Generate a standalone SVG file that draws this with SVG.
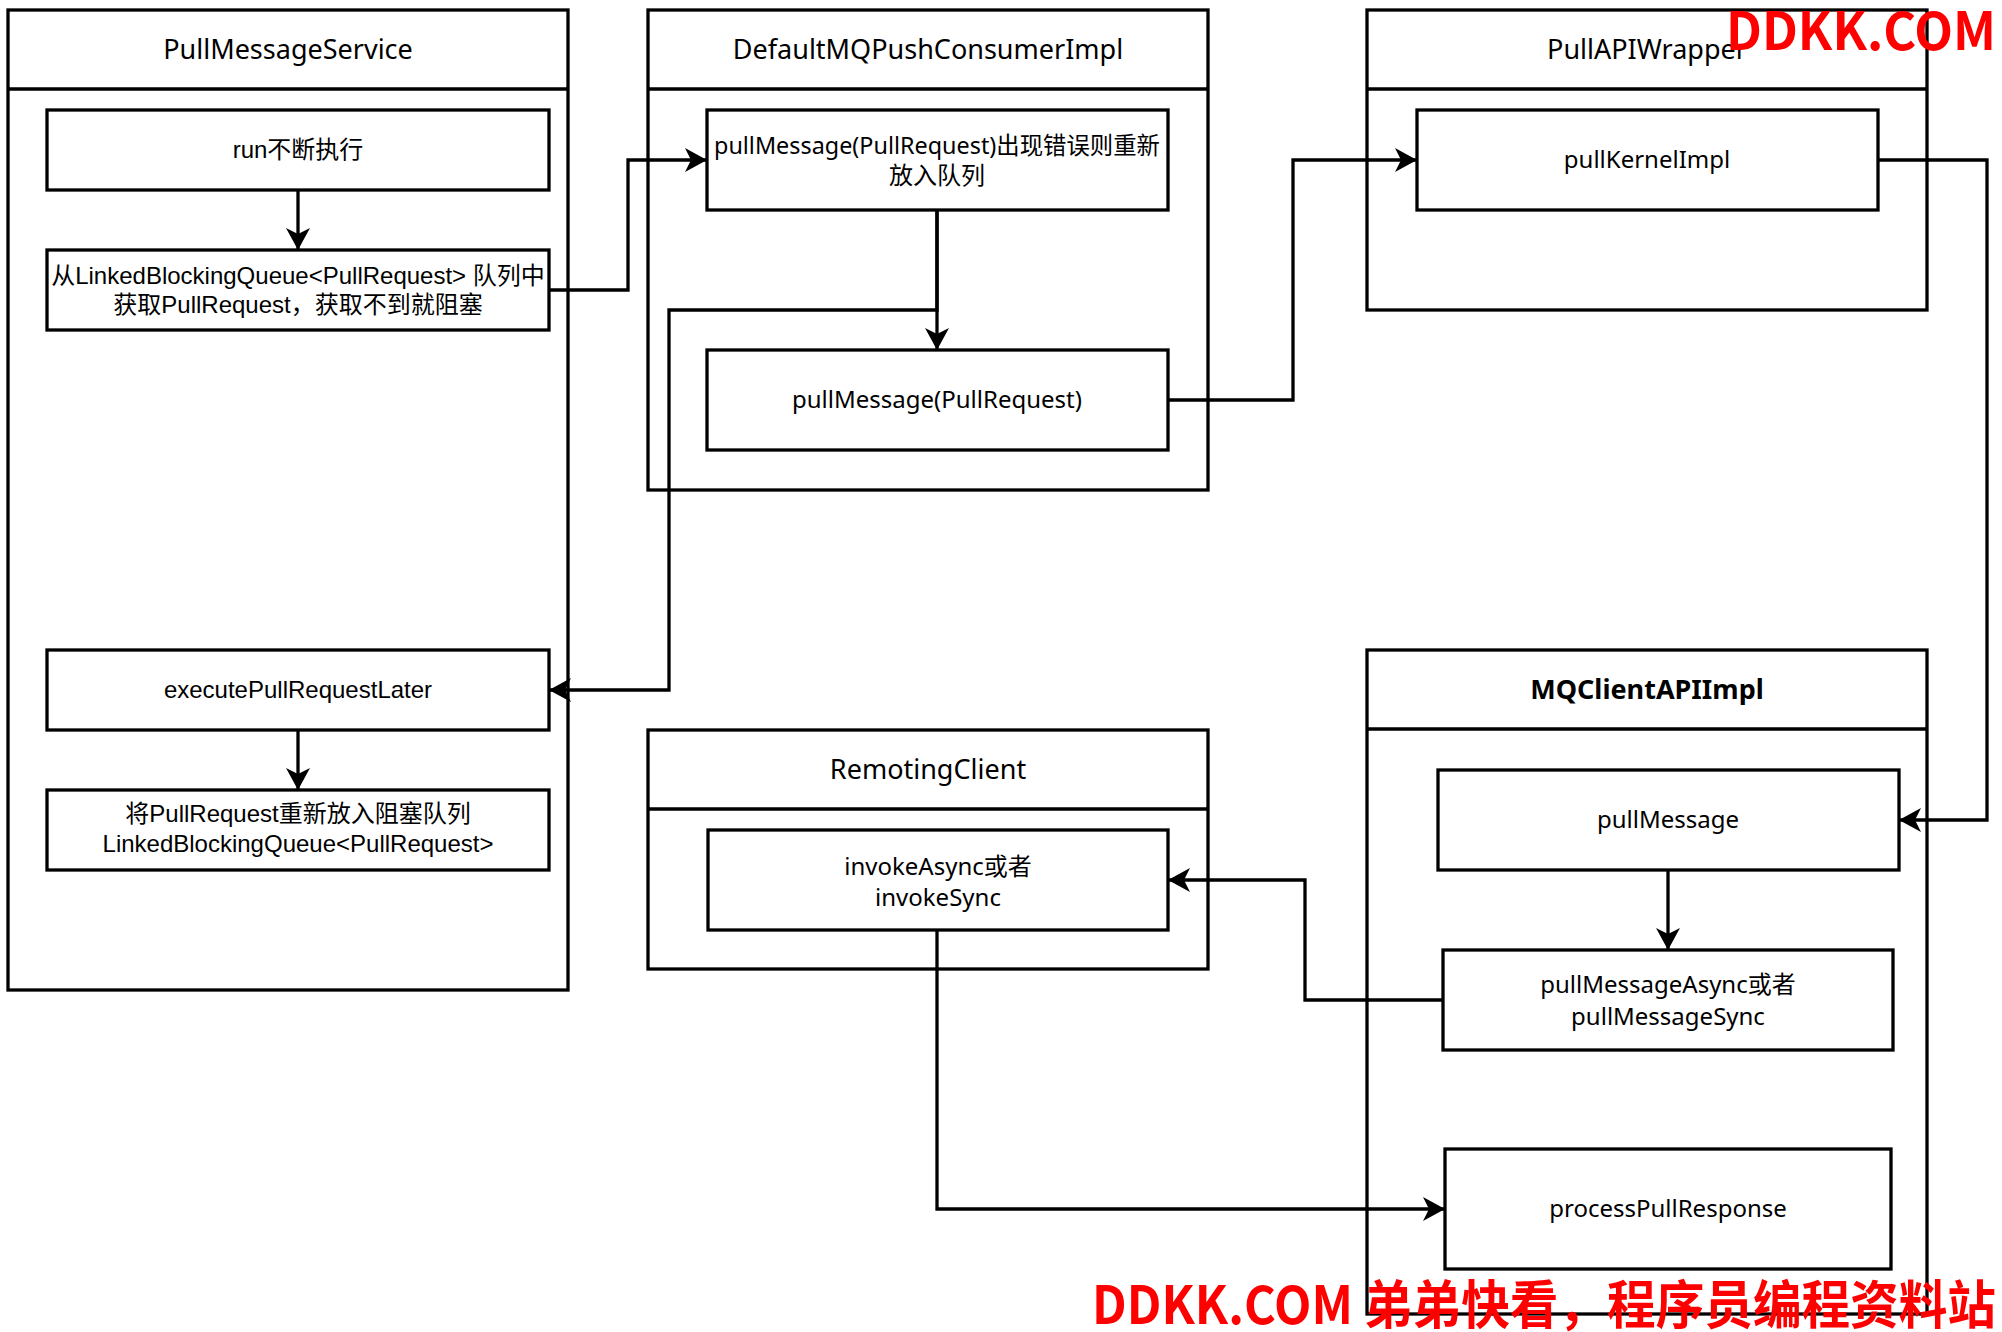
<svg xmlns="http://www.w3.org/2000/svg" width="2002" height="1332" viewBox="0 0 2002 1332">
<style>
.box{fill:#fff;stroke:#000;stroke-width:3.3}
.hdr{fill:none;stroke:#000;stroke-width:3.3}
.c{font-family:"Noto Sans","Noto Sans CJK SC",sans-serif;font-size:24px;text-anchor:middle;fill:#000}
.h{font-family:"Liberation Sans",Arial,"Noto Sans CJK SC",sans-serif;font-size:24px;text-anchor:middle;fill:#000}
.title{font-size:27px}
.conn{fill:none;stroke:#000;stroke-width:3.3}
.wm{font-family:"Noto Sans CJK SC",sans-serif;font-weight:bold;fill:#ff0000;font-size:52px}
</style>
<defs>
<marker id="arr" markerUnits="userSpaceOnUse" markerWidth="24" markerHeight="26" refX="21" refY="13" orient="auto">
<path d="M0,1 L22,13 L0,25 L6,13 Z" fill="#000"/>
</marker>
</defs>
<rect width="2002" height="1332" fill="#fff"/>

<g id="PullMessageService">
<rect class="box" x="8" y="10" width="560" height="980"/>
<line class="hdr" x1="8" y1="89" x2="568" y2="89"/>
<text class="c title" x="288" y="59">PullMessageService</text>
</g>
<g id="DefaultMQPushConsumerImpl">
<rect class="box" x="648" y="10" width="560" height="480"/>
<line class="hdr" x1="648" y1="89" x2="1208" y2="89"/>
<text class="c title" x="928" y="59">DefaultMQPushConsumerImpl</text>
</g>
<g id="PullAPIWrapper">
<rect class="box" x="1367" y="10" width="560" height="300"/>
<line class="hdr" x1="1367" y1="89" x2="1927" y2="89"/>
<text class="c title" x="1647" y="59">PullAPIWrapper</text>
</g>
<g id="RemotingClient">
<rect class="box" x="648" y="730" width="560" height="239"/>
<line class="hdr" x1="648" y1="809" x2="1208" y2="809"/>
<text class="c title" x="928" y="779">RemotingClient</text>
</g>
<g id="MQClientAPIImpl">
<rect class="box" x="1367" y="650" width="560" height="664"/>
<line class="hdr" x1="1367" y1="729" x2="1927" y2="729"/>
<text class="c title" x="1647" y="699" font-weight="bold">MQClientAPIImpl</text>
</g>

<g id="run">
<rect class="box" x="47" y="110" width="502" height="80"/>
<text class="h" x="298" y="158">run不断执行</text>
</g>
<g id="takeQueue">
<rect class="box" x="47" y="250" width="502" height="80"/>
<text class="h" x="298" y="284">从LinkedBlockingQueue&lt;PullRequest&gt; 队列中</text>
<text class="h" x="298" y="313">获取PullRequest，获取不到就阻塞</text>
</g>
<g id="executePullRequestLater">
<rect class="box" x="47" y="650" width="502" height="80"/>
<text class="h" x="298" y="698">executePullRequestLater</text>
</g>
<g id="requeue">
<rect class="box" x="47" y="790" width="502" height="80"/>
<text class="h" x="298" y="822">将PullRequest重新放入阻塞队列</text>
<text class="h" x="298" y="852">LinkedBlockingQueue&lt;PullRequest&gt;</text>
</g>
<g id="pullMessageRetry">
<rect class="box" x="707" y="110" width="461" height="100"/>
<text class="c" x="937" y="154" textLength="446" lengthAdjust="spacingAndGlyphs">pullMessage(PullRequest)出现错误则重新</text>
<text class="c" x="937" y="184">放入队列</text>
</g>
<g id="pullMessagePR">
<rect class="box" x="707" y="350" width="461" height="100"/>
<text class="c" x="937" y="408">pullMessage(PullRequest)</text>
</g>
<g id="pullKernelImpl">
<rect class="box" x="1417" y="110" width="461" height="100"/>
<text class="c" x="1647" y="168">pullKernelImpl</text>
</g>
<g id="invoke">
<rect class="box" x="708" y="830" width="460" height="100"/>
<text class="c" x="938" y="875">invokeAsync或者</text>
<text class="c" x="938" y="906">invokeSync</text>
</g>
<g id="pullMessage">
<rect class="box" x="1438" y="770" width="461" height="100"/>
<text class="c" x="1668" y="828">pullMessage</text>
</g>
<g id="pullMessageAsync">
<rect class="box" x="1443" y="950" width="450" height="100"/>
<text class="c" x="1668" y="993">pullMessageAsync或者</text>
<text class="c" x="1668" y="1025">pullMessageSync</text>
</g>
<g id="processPullResponse">
<rect class="box" x="1445" y="1149" width="446" height="120"/>
<text class="c" x="1668" y="1217">processPullResponse</text>
</g>

<g id="connectors">
<path class="conn" d="M298,190 V249" marker-end="url(#arr)"/>
<path class="conn" d="M549,290 H628 V160 H706" marker-end="url(#arr)"/>
<path class="conn" d="M937,210 V349" marker-end="url(#arr)"/>
<path class="conn" d="M937,210 V310 H669 V690 H550" marker-end="url(#arr)"/>
<path class="conn" d="M1168,400 H1293 V160 H1416" marker-end="url(#arr)"/>
<path class="conn" d="M1878,160 H1987 V820 H1900" marker-end="url(#arr)"/>
<path class="conn" d="M1668,870 V949" marker-end="url(#arr)"/>
<path class="conn" d="M298,730 V789" marker-end="url(#arr)"/>
<path class="conn" d="M1443,1000 H1305 V880 H1169" marker-end="url(#arr)"/>
<path class="conn" d="M937,930 V1209 H1444" marker-end="url(#arr)"/>
</g>

<text class="wm" x="1726" y="50" textLength="270" lengthAdjust="spacingAndGlyphs">DDKK.COM</text>
<text class="wm" x="1092" y="1324" textLength="904" lengthAdjust="spacingAndGlyphs">DDKK.COM 弟弟快看，程序员编程资料站</text>
</svg>
